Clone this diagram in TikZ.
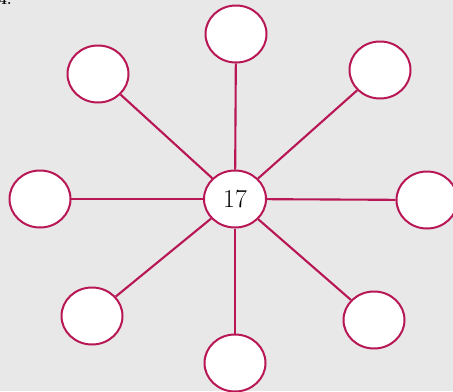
\documentclass[tikz,border=0pt]{standalone}
\usepackage{fontspec}
\usepackage{tikz}
\usetikzlibrary{shapes.geometric}
\definecolor{Rosa}{RGB}{184,22,84}
\definecolor{Papel}{RGB}{232,232,232}

\begin{document}
\begin{tikzpicture}[
  x=0.03cm, y=-0.03cm,
  font=\normalsize,
  hoja/.style={ellipse, draw=Rosa, fill=white, line width=1.7pt,
               minimum width=1.83cm, minimum height=1.71cm, inner sep=0pt},
  centro/.style={hoja, minimum width=1.86cm, minimum height=1.71cm,
                 font=\fontsize{22}{26}\selectfont},
  rayo/.style={draw=Rosa, line width=1.8pt}
]

%% ——— Fondo ———
\fill[Papel] (0,0) rectangle (453,391);
\useasboundingbox (0,0) rectangle (453,391);
\clip (0,0) rectangle (453,391);

%% ——— Número del ejercicio ———
\node[anchor=south west, inner sep=0pt, font=\bfseries\large] (num) at (-1,5) {4.};

%% ——— Centro ———
\node[centro] (c) at (235,199) {17};

%% ——— Círculos exteriores ———
\node[hoja] (n)  at (236, 34) {};
\node[hoja] (no) at ( 98, 74) {};
\node[hoja] (ne) at (380, 70) {};
\node[hoja] (o)  at ( 40,199) {};
\node[hoja] (e)  at (427,200) {};
\node[hoja] (so) at ( 92,316) {};
\node[hoja] (s)  at (235,363) {};
\node[hoja] (se) at (374,320) {};

%% ——— Rayos ———
\draw[rayo] (c) -- (n);
\draw[rayo] (c) -- (no);
\draw[rayo] (c) -- (ne);
\draw[rayo] (c) -- (o);
\draw[rayo] (c) -- (e);
\draw[rayo] (c) -- (so);
\draw[rayo] (c) -- (s);
\draw[rayo] (c) -- (se);

\end{tikzpicture}
\end{document}
